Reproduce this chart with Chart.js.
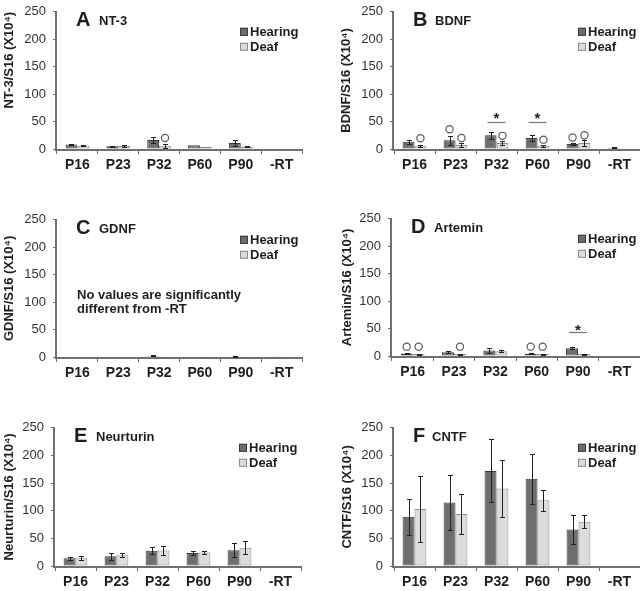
<!DOCTYPE html>
<html><head><meta charset="utf-8">
<script src="https://cdn.jsdelivr.net/npm/chart.js@4"></script>
<style>
html,body{margin:0;padding:0;background:#fff;width:640px;height:591px;overflow:hidden;position:relative}
canvas{position:absolute}
</style></head><body>
<canvas id="cA"></canvas><canvas id="cB"></canvas><canvas id="cC"></canvas>
<canvas id="cD"></canvas><canvas id="cE"></canvas><canvas id="cF"></canvas>
<script>
const categories = ['P16','P23','P32','P60','P90','-RT'];
const seriesNames = ['Hearing','Deaf'];
const yMin = 0, yMax = 250, yStep = 50;

// A  NT-3
const nt3Hearing    = [8, 5, 16.5, 7, 11, 1];
const nt3HearingErr = [1, 1, 5, 0, 5, 0];
const nt3Deaf       = [6, 5.5, 6, 4, 4, 0];
const nt3DeafErr    = [1, 1, 4, 0, 1, 0];
const nt3Circles    = [[2, 1, 20]];            // [category, series, value]
const nt3Stars      = [];                      // [category, star value, line value]

// B  BDNF
const bdnfHearing    = [13, 16, 25, 20, 9, 2.5];
const bdnfHearingErr = [3, 8, 6, 5, 2, 1];
const bdnfDeaf       = [6, 7.5, 11, 6, 11, 0];
const bdnfDeafErr    = [2, 3, 3, 1.5, 5, 0];
const bdnfCircles    = [[0,1,19.5],[1,0,36],[1,1,20],[2,1,24],[3,1,17],[4,0,21],[4,1,25]];
const bdnfStars      = [[2,61,49],[3,61,49]];

// C  GDNF
const gdnfHearing    = [1, 1, 2, 1, 1.5, 0.5];
const gdnfHearingErr = [0, 0, 0.8, 0, 0.8, 0];
const gdnfDeaf       = [0.8, 0.8, 1.5, 0.6, 1.2, 0];
const gdnfDeafErr    = [0, 0, 0, 0, 0, 0];
const gdnfNote       = ['No values are significantly', 'different from -RT'];

// D  Artemin
const artHearing    = [4.5, 7, 10, 4, 14, 1];
const artHearingErr = [1.5, 2, 4, 1, 2, 0];
const artDeaf       = [3.5, 3.5, 8.5, 3.5, 3.5, 0];
const artDeafErr    = [1, 1, 2, 1, 1, 0];
const artCircles    = [[0,0,17],[0,1,17],[1,1,17],[3,0,17],[3,1,17]];
const artStars      = [[4,52,44]];

// E  Neurturin
const neuHearing    = [14, 17.5, 27.5, 23.5, 28.5, 1];
const neuHearingErr = [3, 6, 6, 3, 13, 0];
const neuDeaf       = [14, 19.5, 28, 24.5, 33, 0];
const neuDeafErr    = [3.5, 3.5, 8, 3.5, 12, 0];

// F  CNTF
const cntfHearing    = [89, 115, 172, 158, 66, 0];
const cntfHearingErr = [33, 50, 57, 45, 27, 0];
const cntfDeaf       = [103, 94, 140, 119, 80, 0];
const cntfDeafErr    = [60, 36, 52, 19, 12, 0];

const FONT = "'Liberation Sans', Arial, sans-serif";
const HEAR_FILL = '#6e6e6e', HEAR_BORDER = '#3a3a3a';
const DEAF_FILL = '#dcdcdc', DEAF_BORDER = '#8a8a8a';
const AXIS = '#6a6a6a', TEXT = '#1e1e1e';

const decor = {
  id: 'decor',
  afterDraw(chart, args, o) {
    const ctx = chart.ctx, ys = chart.scales.y, ca = chart.chartArea;
    ctx.save();
    // axis lines along the chart area edges
    ctx.fillStyle = '#707070';
    ctx.fillRect(Math.round(ca.left) - 2, Math.round(ca.top), 2, Math.round(ca.bottom) - Math.round(ca.top) + 2);
    ctx.fillRect(Math.round(ca.left) - 2, Math.round(ca.bottom), Math.round(ca.right) - Math.round(ca.left) + 2, 2);
    // error bars
    chart.data.datasets.forEach((ds, di) => {
      const meta = chart.getDatasetMeta(di);
      meta.data.forEach((bar, i) => {
        const e = ds.errors[i];
        if (!e) return;
        const v = ds.data[i];
        const x = Math.round(bar.x) + 0.5;
        const yt = Math.round(ys.getPixelForValue(v + e)) + 0.5;
        const yb = Math.round(ys.getPixelForValue(v - e)) + 0.5;
        ctx.strokeStyle = '#222'; ctx.lineWidth = 1;
        ctx.beginPath();
        ctx.moveTo(x, yt); ctx.lineTo(x, yb);
        ctx.moveTo(x - 2.5, yt); ctx.lineTo(x + 2.5, yt);
        ctx.moveTo(x - 2.5, yb); ctx.lineTo(x + 2.5, yb);
        ctx.stroke();
      });
    });
    // open circles
    (o.circles || []).forEach(([ci, si, val]) => {
      const bar = chart.getDatasetMeta(si).data[ci];
      ctx.strokeStyle = '#5a5a5a'; ctx.lineWidth = 1.2;
      ctx.beginPath(); ctx.arc(bar.x, ys.getPixelForValue(val), 3.6, 0, Math.PI * 2); ctx.stroke();
    });
    // significance stars
    (o.stars || []).forEach(([ci, sv, lv]) => {
      const b0 = chart.getDatasetMeta(0).data[ci], b1 = chart.getDatasetMeta(1).data[ci];
      const ly = Math.round(ys.getPixelForValue(lv)) + 0.5;
      ctx.strokeStyle = '#777'; ctx.lineWidth = 1.2;
      ctx.beginPath(); ctx.moveTo(b0.x - 3, ly); ctx.lineTo(b1.x + 3, ly); ctx.stroke();
      ctx.fillStyle = '#222'; ctx.font = 'bold 15px ' + FONT;
      ctx.textAlign = 'center'; ctx.textBaseline = 'middle';
      ctx.fillText('*', (b0.x + b1.x) / 2, ys.getPixelForValue(sv) + 3);
    });
    // panel letter and name
    ctx.fillStyle = TEXT; ctx.textAlign = 'left'; ctx.textBaseline = 'alphabetic';
    ctx.font = 'bold 20px ' + FONT;
    ctx.fillText(o.letter, ca.left + 19, ca.top + 14);
    ctx.font = 'bold 13px ' + FONT;
    ctx.fillText(o.name, ca.left + o.nameDx, ca.top + 13);
    // legend
    const lx = ca.right - 62;
    chart.data.datasets.forEach((ds, di) => {
      const cy = ca.top + 20 + di * 15;
      ctx.fillStyle = ds.backgroundColor; ctx.strokeStyle = ds.borderColor; ctx.lineWidth = 1;
      ctx.fillRect(lx, cy - 4, 8, 8);
      ctx.strokeRect(lx + 0.5, cy - 3.5, 7, 7);
      ctx.fillStyle = TEXT; ctx.font = 'bold 13px ' + FONT; ctx.textBaseline = 'middle';
      ctx.fillText(ds.label, lx + 10, cy + 0.5);
    });
    // note
    if (o.note) {
      ctx.fillStyle = TEXT; ctx.font = 'bold 13px ' + FONT; ctx.textBaseline = 'alphabetic';
      o.note.forEach((t, k) => ctx.fillText(t, ca.left + 20, ca.top + 79 + k * 14));
    }
    ctx.restore();
  }
};

function makePanel(id, p, hear, hearErr, deaf, deafErr, extra) {
  const cv = document.getElementById(id);
  const canvasTop = p.top - 10;
  const w = 320, h = p.bottom - p.top + 40;
  cv.style.left = p.col + 'px'; cv.style.top = canvasTop + 'px';
  cv.width = w; cv.height = h; cv.style.width = w + 'px'; cv.style.height = h + 'px';
  const yW = p.left - p.col;
  const padR = p.col + 320 - p.right;
  new Chart(cv, {
    type: 'bar',
    data: {
      labels: categories,
      datasets: [
        {label: seriesNames[0], data: hear, errors: hearErr, backgroundColor: HEAR_FILL, borderColor: HEAR_BORDER,
         borderWidth: 1, borderSkipped: false, barPercentage: 1, categoryPercentage: 0.58},
        {label: seriesNames[1], data: deaf, errors: deafErr, backgroundColor: DEAF_FILL, borderColor: DEAF_BORDER,
         borderWidth: 1, borderSkipped: false, barPercentage: 1, categoryPercentage: 0.58}
      ]
    },
    options: {
      responsive: false, animation: false, devicePixelRatio: 1,
      layout: {padding: {left: 0, right: padR, top: 10, bottom: 0}},
      plugins: {legend: {display: false}, tooltip: {enabled: false}, decor: extra},
      scales: {
        x: {
          grid: {display: true, drawOnChartArea: false, tickLength: 5, color: AXIS, lineWidth: 1, offset: true},
          border: {display: false},
          ticks: {color: TEXT, font: {family: FONT, size: 14, weight: 'bold'}, padding: 3, maxRotation: 0},
          afterFit(s) { s.height = 30; }
        },
        y: {
          min: yMin, max: yMax,
          ticks: {stepSize: yStep, color: '#333', font: {family: FONT, size: 13}, padding: 7},
          grid: {display: true, drawOnChartArea: false, tickLength: 4, color: AXIS, lineWidth: 1},
          border: {display: false},
          title: {display: true, text: p.title, color: TEXT, align: p.align || 'center',
                  font: {family: FONT, size: 13, weight: 'bold'}, padding: {top: p.titleX - p.col - 7.8, bottom: 0}},
          afterFit(s) { s.width = yW; }
        }
      }
    },
    plugins: [decor]
  });
}

makePanel('cA', {col: 0, left: 57, right: 302, top: 7, bottom: 149, titleX: 9.5, align: 'end', title: 'NT-3/S16 (X10⁴)'},
  nt3Hearing, nt3HearingErr, nt3Deaf, nt3DeafErr, {letter: 'A', name: 'NT-3', nameDx: 42, circles: nt3Circles, stars: nt3Stars});
makePanel('cB', {col: 320, left: 394, right: 640, top: 7, bottom: 149, titleX: 346.5, title: 'BDNF/S16 (X10⁴)'},
  bdnfHearing, bdnfHearingErr, bdnfDeaf, bdnfDeafErr, {letter: 'B', name: 'BDNF', nameDx: 41, circles: bdnfCircles, stars: bdnfStars});
makePanel('cC', {col: 0, left: 57, right: 302, top: 215, bottom: 357, titleX: 9.5, title: 'GDNF/S16 (X10⁴)'},
  gdnfHearing, gdnfHearingErr, gdnfDeaf, gdnfDeafErr, {letter: 'C', name: 'GDNF', nameDx: 42, note: gdnfNote});
makePanel('cD', {col: 320, left: 392, right: 640, top: 214, bottom: 356, titleX: 347, title: 'Artemin/S16 (X10⁴)'},
  artHearing, artHearingErr, artDeaf, artDeafErr, {letter: 'D', name: 'Artemin', nameDx: 42, circles: artCircles, stars: artStars});
makePanel('cE', {col: 0, left: 55, right: 301, top: 423, bottom: 566, titleX: 9.5, title: 'Neurturin/S16 (X10⁴)'},
  neuHearing, neuHearingErr, neuDeaf, neuDeafErr, {letter: 'E', name: 'Neurturin', nameDx: 41});
makePanel('cF', {col: 320, left: 394, right: 640, top: 423, bottom: 566, titleX: 347, title: 'CNTF/S16 (X10⁴)'},
  cntfHearing, cntfHearingErr, cntfDeaf, cntfDeafErr, {letter: 'F', name: 'CNTF', nameDx: 38});
</script>
</body></html>
